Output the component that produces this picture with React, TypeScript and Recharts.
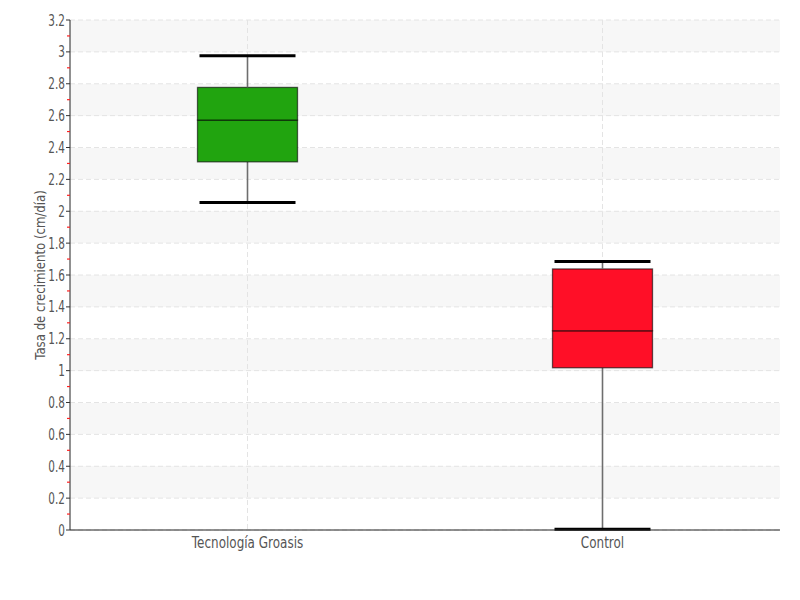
import React from "react";
import { ComposedChart, Bar, XAxis, YAxis, CartesianGrid } from "recharts";

const categories = ["Tecnología Groasis", "Control"];
const mins = [2.055, 0.005];
const q1s = [2.31, 1.018];
const medians = [2.572, 1.25];
const q3s = [2.777, 1.638];
const maxs = [2.976, 1.684];
const boxColors = ["#21a40f", "#ff0f27"];

const yTicks = [
  0, 0.1, 0.2, 0.3, 0.4, 0.5, 0.6, 0.7, 0.8, 0.9, 1, 1.1, 1.2, 1.3, 1.4, 1.5,
  1.6, 1.7, 1.8, 1.9, 2, 2.1, 2.2, 2.3, 2.4, 2.5, 2.6, 2.7, 2.8, 2.9, 3, 3.1,
  3.2,
];
const majorTicks = [
  0, 0.2, 0.4, 0.6, 0.8, 1, 1.2, 1.4, 1.6, 1.8, 2, 2.2, 2.4, 2.6, 2.8, 3, 3.2,
];
const yLabel = "Tasa de crecimiento (cm/día)";

const data = categories.map((name, i) => ({
  name,
  color: boxColors[i],
  base: mins[i],
  lowWhisker: q1s[i] - mins[i],
  lowBox: medians[i] - q1s[i],
  highBox: q3s[i] - medians[i],
  highWhisker: maxs[i] - q3s[i],
}));

const FONT = "'DejaVu Sans', sans-serif";
const BOX_W = 100;
const CAP_W = 96;

// invisible base bar, also draws the dashed vertical grid line at the category centre
const BaseShape = (props: any) => {
  const { x, width, background } = props;
  if (!background) return <g />;
  const cx = x + width / 2;
  return (
    <line
      x1={cx}
      x2={cx}
      y1={background.y}
      y2={background.y + background.height}
      stroke="#e4e4e4"
      strokeDasharray="5 3"
    />
  );
};

const LowWhisker = (props: any) => {
  const { x, y, width, height } = props;
  const cx = x + width / 2;
  return (
    <g>
      <line x1={cx} x2={cx} y1={y} y2={y + height} stroke="#6e6e6e" strokeWidth={1.6} />
      <line
        x1={cx - CAP_W / 2}
        x2={cx + CAP_W / 2}
        y1={y + height}
        y2={y + height}
        stroke="#000"
        strokeWidth={3}
      />
    </g>
  );
};

const HighWhisker = (props: any) => {
  const { x, y, width, height } = props;
  const cx = x + width / 2;
  return (
    <g>
      <line x1={cx} x2={cx} y1={y} y2={y + height} stroke="#6e6e6e" strokeWidth={1.6} />
      <line
        x1={cx - CAP_W / 2}
        x2={cx + CAP_W / 2}
        y1={y}
        y2={y}
        stroke="#000"
        strokeWidth={3}
      />
    </g>
  );
};

const BoxPart = (props: any) => {
  const { x, y, width, height, payload } = props;
  const cx = x + width / 2;
  return (
    <rect
      x={cx - BOX_W / 2}
      y={y}
      width={BOX_W}
      height={height}
      fill={payload.color}
      stroke="rgba(0,0,0,0.6)"
      strokeWidth={1.3}
    />
  );
};

const YTick = (props: any) => {
  const { x, y, payload } = props;
  const v = payload.value;
  const major = majorTicks.some((m) => Math.abs(m - v) < 1e-6);
  if (!major) {
    return <line x1={x + 3} x2={x + 6} y1={y} y2={y} stroke="#ff2020" strokeWidth={1.2} />;
  }
  return (
    <g>
      <line x1={x + 2} x2={x + 6} y1={y} y2={y} stroke="#333" strokeWidth={1} />
      <text
        transform={`translate(${x + 1},${y + 5.5}) scale(0.7,1)`}
        textAnchor="end"
        fill="#555"
        fontSize={15}
        fontFamily={FONT}
      >
        {String(v)}
      </text>
    </g>
  );
};

const XTick = (props: any) => {
  const { x, y, payload } = props;
  return (
    <text
      transform={`translate(${x},${y + 10}) scale(0.8,1)`}
      textAnchor="middle"
      fill="#555"
      fontSize={15}
      fontFamily={FONT}
    >
      {payload.value}
    </text>
  );
};

const YLabel = (props: any) => {
  const { viewBox } = props;
  const cx = viewBox.x + 37;
  const cy = viewBox.y + viewBox.height / 2;
  return (
    <text
      transform={`translate(${cx},${cy}) rotate(-90) scale(0.84,1)`}
      textAnchor="middle"
      fill="#555"
      fontSize={14}
      fontFamily={FONT}
    >
      {yLabel}
    </text>
  );
};

export default function App() {
  return (
    <div style={{ width: 792, height: 584 }}>
      <ComposedChart
        width={792}
        height={584}
        data={data}
        margin={{ top: 12, right: 20, left: 0, bottom: 32 }}
        barCategoryGap={0}
      >
        <CartesianGrid
          vertical={false}
          horizontalValues={majorTicks}
          horizontalFill={["#f7f7f7", "#ffffff"]}
          fillOpacity={1}
          stroke="#e4e4e4"
          strokeDasharray="5 3"
        />
        <XAxis
          dataKey="name"
          height={30}
          axisLine={{ stroke: "#222" }}
          tickLine={false}
          tick={<XTick />}
        />
        <YAxis
          width={62}
          domain={[0, 3.2]}
          ticks={yTicks}
          interval={0}
          tickLine={false}
          tickSize={4}
          tickMargin={2}
          axisLine={{ stroke: "#222" }}
          tick={<YTick />}
          label={<YLabel />}
        />
        <Bar dataKey="base" stackId="box" shape={<BaseShape />} isAnimationActive={false} />
        <Bar dataKey="lowWhisker" stackId="box" shape={<LowWhisker />} isAnimationActive={false} />
        <Bar dataKey="lowBox" stackId="box" shape={<BoxPart />} isAnimationActive={false} />
        <Bar dataKey="highBox" stackId="box" shape={<BoxPart />} isAnimationActive={false} />
        <Bar dataKey="highWhisker" stackId="box" shape={<HighWhisker />} isAnimationActive={false} />
      </ComposedChart>
    </div>
  );
}
